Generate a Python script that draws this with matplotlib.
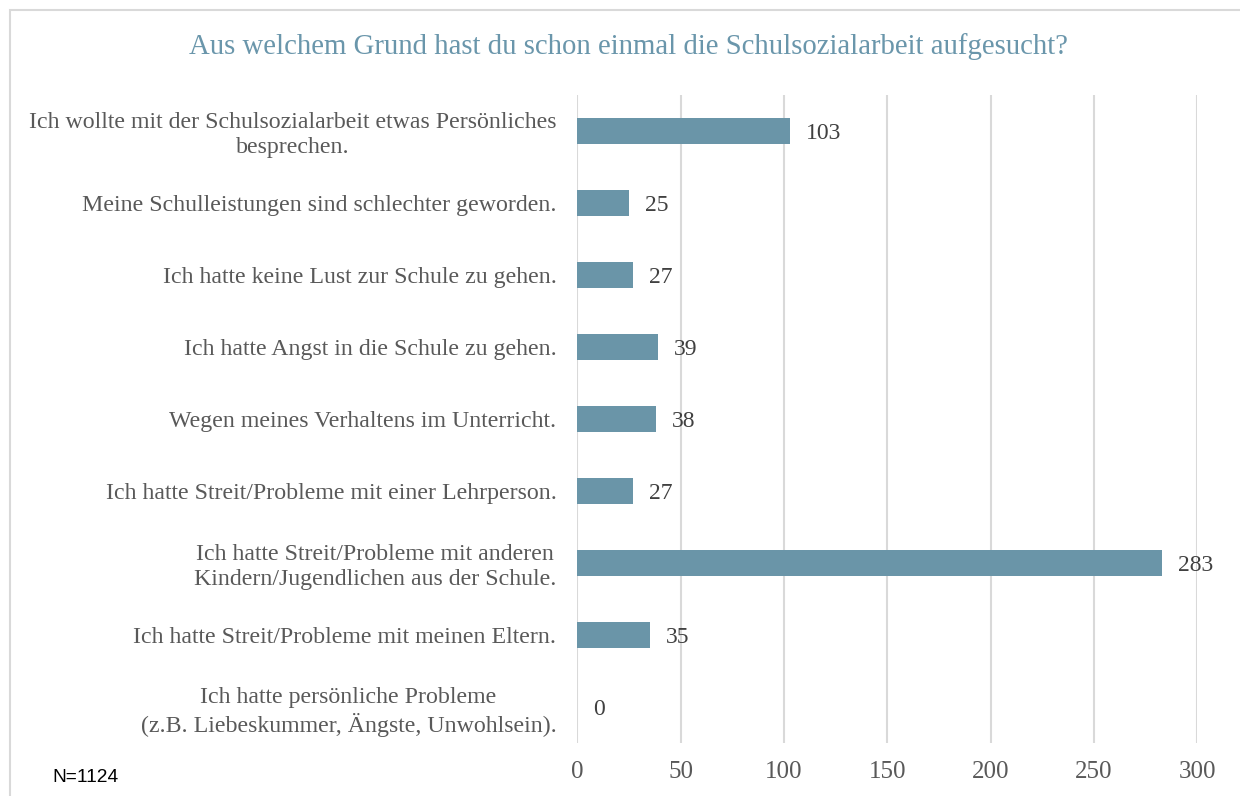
import matplotlib
matplotlib.use("Agg")
import matplotlib.pyplot as plt
from matplotlib.patches import Rectangle

categories = [
    "Ich wollte mit der Schulsozialarbeit etwas Persönliches\nbesprechen.",
    "Meine Schulleistungen sind schlechter geworden.",
    "Ich hatte keine Lust zur Schule zu gehen.",
    "Ich hatte Angst in die Schule zu gehen.",
    "Wegen meines Verhaltens im Unterricht.",
    "Ich hatte Streit/Probleme mit einer Lehrperson.",
    "Ich hatte Streit/Probleme mit anderen\nKindern/Jugendlichen aus der Schule.",
    "Ich hatte Streit/Probleme mit meinen Eltern.",
    "Ich hatte persönliche Probleme\n(z.B. Liebeskummer, Ängste, Unwohlsein).",
]
values = [103, 25, 27, 39, 38, 27, 283, 35, 0]
xticks = [0, 50, 100, 150, 200, 250, 300]
title = "Aus welchem Grund hast du schon einmal die Schulsozialarbeit aufgesucht?"
note = "N=1124"

serif = ["Liberation Serif", "DejaVu Serif"]
bar_color = "#6A95A8"
text_color = "#595959"

fig = plt.figure(figsize=(12.4, 7.96), dpi=100)
ax = fig.add_axes([577.3 / 1240, 1 - 743 / 796, 620 / 1240, 648 / 796])

y = list(range(len(categories)))
ax.barh(y, values, height=0.35, color=bar_color, zorder=3)
ax.set_ylim(len(categories) - 0.5, -0.5)
ax.set_xlim(0, 300)
ax.set_xticks(xticks)
ax.set_xticklabels([str(t) for t in xticks], family=serif, fontsize=18, color=text_color)
ax.set_yticks(y)
ax.set_yticklabels(categories, family=serif, fontsize=17.2, color=text_color,
                   ha="right", multialignment="center", linespacing=1.25)
ax.tick_params(axis="y", length=0, pad=15)
ax.tick_params(axis="x", length=0, pad=13)
ax.grid(axis="x", color="#D9D9D9", linewidth=1.5, zorder=0)
for s in ax.spines.values():
    s.set_visible(False)

for yi, v in zip(y, values):
    ax.annotate(str(v), (v, yi), xytext=(16, 0), textcoords="offset pixels",
                ha="left", va="center_baseline", family=serif, fontsize=17,
                color="#404040", zorder=4)

fig.text(628 / 1240, 1 - 47 / 796, title, ha="center", va="center",
         family=serif, fontsize=20.7, color="#6A96AB")
fig.text(52 / 1240, 1 - 778 / 796, note, ha="left", va="center",
         family=["Liberation Sans", "DejaVu Sans"], fontsize=13.8, color="black")

fig.patches.append(Rectangle((10 / 1240, -0.1), 1.2, 1 - 10 / 796 + 0.1,
                             transform=fig.transFigure, fill=False,
                             edgecolor="#D9D9D9", linewidth=1.5))

fig.savefig("out.png", dpi=100)
